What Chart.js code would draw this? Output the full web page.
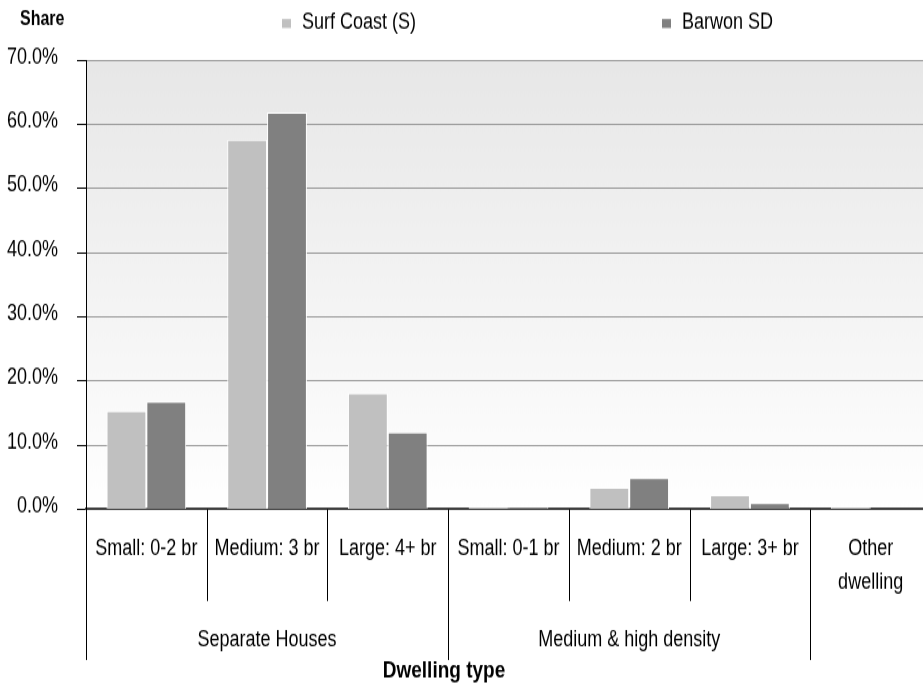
<!DOCTYPE html>
<html>
<head>
<meta charset="utf-8">
<script src="https://cdn.jsdelivr.net/npm/chart.js@4.4.1/dist/chart.umd.min.js"></script>
<style>
  html { overflow: hidden; }
  html, body { margin: 0; padding: 0; background: #ffffff; }
  body { width: 923px; height: 686px; }
  /* the chart is laid out in a shorter box and stretched vertically,
     which gives the tall, narrow lettering of the printed report */
  #wrap { position: relative; width: 935px; height: 549px;
          transform: scaleY(1.25); transform-origin: 0 0; }
</style>
</head>
<body>
<div id="wrap"><canvas id="chart"></canvas></div>
<script>
// Dwelling categories (multi-line labels are arrays)
const categories = [
  ['Small: 0-2 br'], ['Medium: 3 br'], ['Large: 4+ br'],
  ['Small: 0-1 br'], ['Medium: 2 br'], ['Large: 3+ br'],
  ['Other', 'dwelling']
];
// Second level of the axis: group names and how many categories each spans
const groupNames = ['Separate Houses', 'Medium & high density', ''];
const groupSpans = [3, 3, 1];

// Share of dwellings (%)
const surfCoast = [15.3, 57.6, 18.1, 0.4, 3.4, 2.2, 0.4];
const barwonSD  = [16.8, 61.8, 12.0, 0.4, 4.9, 1.0, 0.1];

const seriesNames = ['Surf Coast (S)', 'Barwon SD'];
const yTicks = [0, 10, 20, 30, 40, 50, 60, 70];

const K = 1.25;              // vertical stretch applied by CSS
const Y = (v) => v / K;      // page y -> canvas y

const FONT = "'Liberation Sans', Arial, sans-serif";
Chart.defaults.font.family = FONT;
Chart.defaults.font.size = 18;
Chart.defaults.color = '#000000';

// Soft grey-to-white fill behind the plot
const plotBackground = {
  id: 'plotBackground',
  beforeDraw(chart) {
    const { ctx, chartArea: a } = chart;
    const g = ctx.createLinearGradient(0, a.top, 0, a.bottom);
    g.addColorStop(0, '#e7e7e7');
    g.addColorStop(1, '#ffffff');
    ctx.save();
    ctx.fillStyle = g;
    ctx.fillRect(a.left, a.top, a.right - a.left, a.bottom - a.top);
    ctx.restore();
  }
};

// Heading, legend, category separators, group labels and axis title
const decorations = {
  id: 'decorations',
  afterDraw(chart) {
    const { ctx } = chart;
    const x = chart.scales.x;
    const base = chart.chartArea.bottom;
    ctx.save();

    ctx.fillStyle = '#000';
    ctx.font = "bold 16px " + FONT;
    ctx.textAlign = 'left';
    ctx.textBaseline = 'middle';
    ctx.fillText('Share', 20, Y(20));

    // legend
    const legendX = [282, 662];
    ctx.font = "18px " + FONT;
    chart.data.datasets.forEach((ds, i) => {
      ctx.fillStyle = ds.backgroundColor;
      ctx.fillRect(legendX[i], Y(19), 9, Y(9));
      ctx.fillStyle = '#000';
      ctx.fillText(ds.label, legendX[i] + 20, Y(22));
    });

    // separators between categories
    const n = categories.length;
    const edge = (i) => {
      if (i <= 0) return x.left;
      if (i >= n) return x.right;
      return (x.getPixelForValue(i - 1) + x.getPixelForValue(i)) / 2;
    };
    const groupEdges = [0];
    groupSpans.forEach(s => groupEdges.push(groupEdges[groupEdges.length - 1] + s));
    ctx.strokeStyle = '#000';
    ctx.lineWidth = 1;
    for (let i = 0; i <= n; i++) {
      const px = Math.round(edge(i)) + 0.5;
      const long = groupEdges.includes(i);
      ctx.beginPath();
      ctx.moveTo(px, base);
      ctx.lineTo(px, Y(long ? 660 : 601));
      ctx.stroke();
    }

    // group labels
    ctx.textAlign = 'center';
    ctx.font = "18px " + FONT;
    groupNames.forEach((name, gi) => {
      if (!name) return;
      const cx = (edge(groupEdges[gi]) + edge(groupEdges[gi + 1])) / 2;
      ctx.fillText(name, cx, Y(640));
    });

    // axis title
    ctx.font = "bold 19px " + FONT;
    ctx.fillText('Dwelling type', 444, Y(671));
    ctx.restore();
  }
};

new Chart(document.getElementById('chart'), {
  type: 'bar',
  data: {
    labels: categories,
    datasets: [
      { label: seriesNames[0], data: surfCoast, backgroundColor: '#c0c0c0',
        borderColor: '#ffffff', borderWidth: 1 },
      { label: seriesNames[1], data: barwonSD, backgroundColor: '#808080',
        borderColor: '#ffffff', borderWidth: 1 }
    ]
  },
  options: {
    responsive: true,
    maintainAspectRatio: false,
    animation: false,
    devicePixelRatio: 1,
    layout: { padding: { top: Y(60), right: 4, left: 0, bottom: 0 } },
    datasets: { bar: { categoryPercentage: 0.66, barPercentage: 1.0 } },
    plugins: { legend: { display: false }, title: { display: false }, tooltip: { enabled: false } },
    scales: {
      x: {
        grid: { display: true, drawOnChartArea: false, drawTicks: false },
        border: { display: true, color: '#404040', width: 2 },
        ticks: {
          autoSkip: false, maxRotation: 0, minRotation: 0,
          padding: Y(549 - 509) - Y(33) / 2,
          font: { size: 18, lineHeight: Y(33) + 'px' },
          color: '#000'
        },
        afterFit(scale) { scale.height = Y(686 - 509); }
      },
      y: {
        min: 0, max: 70,
        afterBuildTicks(scale) { scale.ticks = yTicks.map(v => ({ value: v })); },
        grid: {
          color: (c) => (c.tick && c.tick.value === 0) ? 'rgba(0,0,0,0)' : '#999999',
          tickColor: '#000',
          tickLength: 9,
          lineWidth: 1
        },
        border: { display: true, color: '#000', width: 1 },
        ticks: {
          padding: 19,
          font: { size: 18, lineHeight: Y(6) + 'px' },
          color: '#000',
          // empty second line lifts the label slightly above its gridline
          callback: (v) => [Number(v).toFixed(1) + '%', '']
        },
        afterFit(scale) { scale.width = 86; }
      }
    }
  },
  plugins: [plotBackground, decorations]
});
</script>
</body>
</html>
